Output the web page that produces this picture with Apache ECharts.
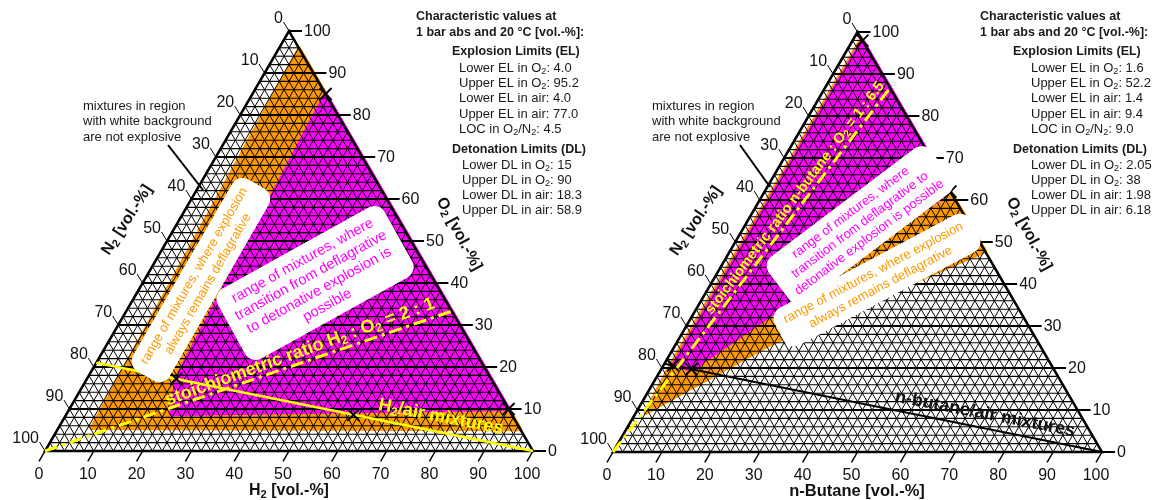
<!DOCTYPE html>
<html><head><meta charset="utf-8">
<script src="https://cdn.jsdelivr.net/npm/echarts@6/dist/echarts.min.js"></script>
<style>html,body{margin:0;padding:0;background:#fff}#c{width:1155px;height:500px}</style>
</head><body><div id="c"></div>
<script>
// ---------- data (compositions are [fuel vol.-%, O2 vol.-%]) ----------
const tickValues = [0, 10, 20, 30, 40, 50, 60, 70, 80, 90, 100];

const h2Deflagrative = [[4.2, 95.8], [6.8, 5.5], [94.8, 5.2]];
const h2Detonative = [[15, 85], [18.3, 17.2], [21.5, 8.8], [90, 10]];
const h2Markers = [[15, 85], [18.3, 17.2], [58.9, 8.6], [90, 10]];
const h2AirLine = [[0, 21], [100, 0]];
const h2StoichLine = [[0, 0], [66.7, 33.3]];

const buDeflagrative = [[1.6, 98.4], [1.4, 20.7], [2.0, 9.3], [19.7, 26.0], [52.2, 47.8]];
const buDetonative = [[2.05, 97.95], [1.98, 20.6], [6.18, 19.7], [38, 62]];
const buMarkers = [[2.05, 97.95], [1.98, 20.6], [6.18, 19.7], [38, 62]];
const buAirLine = [[0, 21], [100, 0]];
const buStoichLine = [[0, 0], [13.3, 86.7]];

const elLabels = ['Lower EL in O₂', 'Upper EL in O₂', 'Lower EL in air', 'Upper EL in air', 'LOC in O₂/N₂'];
const dlLabels = ['Lower DL in O₂', 'Upper DL in O₂', 'Lower DL in air', 'Upper DL in air'];
const h2EL = ['4.0', '95.2', '4.0', '77.0', '4.5'];
const h2DL = ['15', '90', '18.3', '58.9'];
const buEL = ['1.6', '52.2', '1.4', '9.4', '9.0'];
const buDL = ['2.05', '38', '1.98', '6.18'];

// ---------- helpers ----------
const FONT = "'Liberation Sans', Arial, Helvetica, sans-serif";
const SQ = Math.sqrt(3) / 2;
const tern = p => [p[0] + p[1] / 2, p[1] * SQ];
const ORANGE = '#FF9900', MAGENTA = '#FF00FF', YELLOW = '#FFFF00';
const D2R = Math.PI / 180;
const sub = s => s.replace(/₂/g, '{s|2}');
function richSub(size, weight, fill, pad) {
  return { s: { fontSize: size, fontFamily: FONT, fontWeight: weight, fill: fill, padding: [pad, 0, 0, 0] } };
}

function regionSeries(k, polys, colors) {
  return {
    type: 'custom', xAxisIndex: k, yAxisIndex: k, z: 1, silent: true, animation: false,
    data: polys.map((p, i) => i),
    renderItem: (params, api) => {
      const pts = polys[params.dataIndex].map(p => api.coord(tern(p)));
      return { type: 'polygon', shape: { points: pts },
        style: { fill: colors[params.dataIndex], stroke: colors[params.dataIndex], lineWidth: 4, lineJoin: 'round' } };
    }
  };
}

function frameSeries(k) {
  return {
    type: 'custom', xAxisIndex: k, yAxisIndex: k, z: 2, silent: true, animation: false,
    data: [0],
    renderItem: (params, api) => {
      const C = p => api.coord(tern(p));
      const ch = [];
      const line = (a, b, w, c) => ch.push({ type: 'line', shape: { x1: a[0], y1: a[1], x2: b[0], y2: b[1] }, style: { stroke: c, lineWidth: w } });
      const txt = (t, x, y, al) => ch.push({ type: 'text', style: { text: t, x: x, y: y, align: al, verticalAlign: 'middle', textAlign: al, textVerticalAlign: 'middle', fill: '#111', fontSize: 16, fontFamily: FONT } });
      for (let v = 2; v < 100; v += 2) {
        line(C([v, 0]), C([v, 100 - v]), 1, '#000');
        line(C([100 - v, 0]), C([0, 100 - v]), 1, '#000');
      }
      for (let v = 2; v < 100; v += 2) {
        line(C([0, v]), C([100 - v, v]), v % 10 === 0 ? 2.2 : 1.1, '#000');
      }
      ch.push({ type: 'polygon', shape: { points: [C([0, 0]), C([100, 0]), C([0, 100])] }, style: { fill: 'none', stroke: '#000', lineWidth: 2.5 } });
      tickValues.forEach(v => {
        const b = C([v, 0]);
        line(b, [b[0] - 6, b[1] + 10.4], 1.5, '#000');
        txt(String(v), b[0] - 6, b[1] + 24, 'center');
        const r = C([100 - v, v]);
        line(r, [r[0] + 13, r[1]], 2, '#000');
        txt(String(v), r[0] + 15, r[1] + 1, 'left');
        const l = C([0, 100 - v]);
        line(l, [l[0] - 5.5, l[1] - 9], 1, '#000');
        txt(String(v), l[0] - 6, l[1] - 12, 'right');
      });
      return { type: 'group', children: ch };
    }
  };
}

function markerSeries(k, pts) {
  return {
    type: 'custom', xAxisIndex: k, yAxisIndex: k, z: 4, silent: true, animation: false,
    data: pts.map((p, i) => i),
    renderItem: (params, api) => {
      const c = api.coord(tern(pts[params.dataIndex]));
      const s = 6;
      return { type: 'group', children: [
        { type: 'line', shape: { x1: c[0] - s, y1: c[1] - s, x2: c[0] + s, y2: c[1] + s }, style: { stroke: '#000', lineWidth: 1.8 } },
        { type: 'line', shape: { x1: c[0] - s, y1: c[1] + s, x2: c[0] + s, y2: c[1] - s }, style: { stroke: '#000', lineWidth: 1.8 } }
      ] };
    }
  };
}

function lineSeries(k, pts, color, width, dash) {
  return {
    type: 'line', xAxisIndex: k, yAxisIndex: k, z: 3, silent: true, animation: false,
    symbol: 'none', data: pts.map(tern),
    lineStyle: { color: color, width: width, type: dash || 'solid', cap: 'butt' }
  };
}

// ---------- graphic texts ----------
const G = [];
function T(x, y, text, opt) {
  opt = opt || {};
  const size = opt.size || 13, weight = opt.weight || 'normal', fill = opt.fill || '#1a1a1a';
  const al = opt.align || 'left';
  const st = { text: sub(text), x: 0, y: 0, fill: fill, fontSize: size, fontFamily: FONT, fontWeight: weight,
    align: al, verticalAlign: 'middle', textAlign: al, textVerticalAlign: 'middle',
    rich: richSub(opt.subSize || Math.round(size * 0.7), weight, fill, opt.subPad || Math.round(size * 0.5)) };
  if (opt.lineHeight) st.lineHeight = opt.lineHeight;
  if (opt.box) { st.backgroundColor = '#fff'; st.borderRadius = 12; st.padding = opt.box; }
  G.push({ type: 'text', x: x, y: y, rotation: (opt.rot || 0) * D2R, z: 100, silent: true, style: st });
}
function infoBlock(x0, xh, xi, xd, el, dl) {
  T(x0, 17, 'Characteristic values at', { size: 12.5, weight: 'bold' });
  T(x0, 33, '1 bar abs and 20 °C [vol.-%]:', { size: 12.5, weight: 'bold' });
  T(xh, 52, 'Explosion Limits (EL)', { size: 12.5, weight: 'bold' });
  const ely = [68, 83.5, 98.5, 114, 129];
  elLabels.forEach((l, i) => T(xi, ely[i], l + ': ' + el[i], { size: 13, subSize: 9, subPad: 7 }));
  T(xh, 150, 'Detonation Limits (DL)', { size: 12.5, weight: 'bold' });
  const dly = [165, 180, 195.5, 210.5];
  dlLabels.forEach((l, i) => T(xd, dly[i], l + ': ' + dl[i], { size: 13, subSize: 9, subPad: 7 }));
}
infoBlock(416, 452, 459, 462, h2EL, h2DL);
infoBlock(980, 1013, 1031, 1031, buEL, buDL);

['mixtures in region', 'with white background', 'are not explosive'].forEach((t, i) => {
  T(83, 106 + i * 15.5, t, { size: 13 });
  T(652, 106 + i * 15.5, t, { size: 13 });
});
G.push({ type: 'line', z: 100, shape: { x1: 168, y1: 145, x2: 203, y2: 190 }, style: { stroke: '#000', lineWidth: 2 } });
G.push({ type: 'line', z: 100, shape: { x1: 740, y1: 145, x2: 770, y2: 187 }, style: { stroke: '#000', lineWidth: 2 } });

// axis titles
T(289, 491, 'H₂ [vol.-%]', { size: 16, weight: 'bold', align: 'center', subSize: 11, subPad: 8, fill: '#111' });
T(857, 491, 'n-Butane [vol.-%]', { size: 16.5, weight: 'bold', align: 'center', fill: '#111' });
T(459, 234, 'O₂ [vol.-%]', { size: 16, weight: 'bold', align: 'center', rot: -62, subSize: 11, subPad: 8, fill: '#111' });
T(1029, 234, 'O₂ [vol.-%]', { size: 16, weight: 'bold', align: 'center', rot: -62, subSize: 11, subPad: 8, fill: '#111' });
T(127, 220, 'N₂ [vol.-%]', { size: 16, weight: 'bold', align: 'center', rot: 57, subSize: 11, subPad: 8, fill: '#111' });
T(696, 221, 'N₂ [vol.-%]', { size: 16, weight: 'bold', align: 'center', rot: 56, subSize: 11, subPad: 8, fill: '#111' });

// region boxes
T(201, 280, 'range of mixtures, where explosion\nalways remains deflagrative', { size: 13, fill: ORANGE, align: 'center', rot: 60, box: [5, 10], lineHeight: 16 });
T(315, 283, 'range of mixtures, where\ntransition from deflagrative\nto detonative explosion is\npossible', { size: 14.5, fill: MAGENTA, align: 'center', rot: 29, box: [6, 10], lineHeight: 17 });
T(860, 225, 'range of mixtures, where\ntransition from deflagrative to\ndetonative explosion is possible', { size: 13, fill: MAGENTA, align: 'center', rot: 37, box: [5, 10], lineHeight: 15.5 });
T(877, 280, 'range of mixtures, where explosion\nalways remains deflagrative', { size: 13, fill: ORANGE, align: 'center', rot: 28, box: [5, 10], lineHeight: 16 });

// line labels
T(300, 352, 'stoichiometric ratio H₂ : O₂ = 2 : 1', { size: 18, weight: 'bold', fill: YELLOW, align: 'center', rot: 20, subSize: 12, subPad: 9 });
T(441, 417, 'H₂/air mixtures', { size: 18, weight: 'bold', fill: YELLOW, align: 'center', rot: -11, subSize: 12, subPad: 9 });
T(795, 198, 'stoichiometric ratio n-butane : O₂ = 1 : 6.5', { size: 14.5, weight: 'bold', fill: YELLOW, align: 'center', rot: 53, subSize: 10, subPad: 7 });
T(985, 414, 'n-butane/air mixtures', { size: 18, weight: 'bold', fill: '#111', align: 'center', rot: -11 });

// ---------- chart ----------
const chart = echarts.init(document.getElementById('c'), null, { renderer: 'canvas' });
const ax = (k, max) => ({ type: 'value', gridIndex: k, min: 0, max: max, show: false });
chart.setOption({
  animation: false,
  grid: [
    { left: 45, top: 31, width: 488, height: 420, outerBoundsMode: 'none' },
    { left: 613, top: 32, width: 489, height: 420, outerBoundsMode: 'none' }
  ],
  xAxis: [ax(0, 100), ax(1, 100)],
  yAxis: [ax(0, 100 * SQ), ax(1, 100 * SQ)],
  series: [
    regionSeries(0, [h2Deflagrative, h2Detonative], [ORANGE, MAGENTA]),
    frameSeries(0),
    lineSeries(0, h2AirLine, YELLOW, 2.5),
    lineSeries(0, h2StoichLine, YELLOW, 3, [13, 5, 3, 5]),
    markerSeries(0, h2Markers),
    regionSeries(1, [buDeflagrative, buDetonative], [ORANGE, MAGENTA]),
    frameSeries(1),
    lineSeries(1, buAirLine, '#000', 2),
    lineSeries(1, buStoichLine, YELLOW, 3, [13, 5, 3, 5]),
    markerSeries(1, buMarkers)
  ],
  graphic: { elements: G }
});
</script>
</body></html>
